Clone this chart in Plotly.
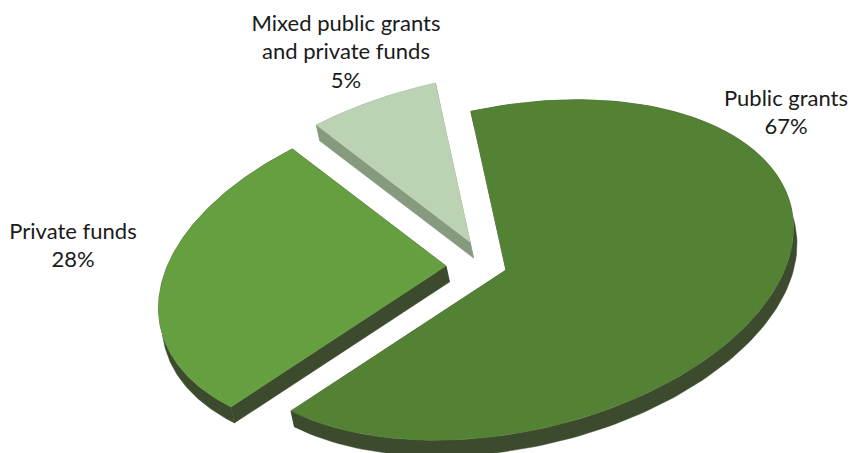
import numpy as np
import plotly.graph_objects as go

# Funding shares in percent, in clockwise drawing order.
categories = ["Public grants", "Private funds", "Mixed public grants and private funds"]
shares = [67, 28, 5]
label_lines = [["Public grants"], ["Private funds"], ["Mixed public grants", "and private funds"]]

top_colors = ["#548235", "#659F40", "#BBD3B2"]
side_colors = ["#3C4B2E", "#3C4B2E", "#869A7E"]

# Tilted-disc view: each slice is pulled away from the middle, and the view
# widens or narrows its sweep a little.
apexes = [(506, 270), (446, 266), (470, 242)]
sweep_scale = [0.976, 0.985, 1.41]
start_angle = 97.0
axis_u = (287.5, -42.0)
axis_v = (0.0, -165.0)
extrusion = (3.5, 16.0)
label_anchor = [(786, 100), (73, 233), (346, 25)]
line_gap = 28.5


def project(apex, angles):
    c, s = np.cos(angles), np.sin(angles)
    return apex[0] + axis_u[0] * c + axis_v[0] * s, apex[1] + axis_u[1] * c + axis_v[1] * s


def slice_outline(apex, begin, end):
    arc = np.radians(np.linspace(begin, end, 160))
    x, y = project(apex, arc)
    return np.r_[apex[0], x, apex[0]], np.r_[apex[1], y, apex[1]]


def strip(xs, ys):
    # Closed band between a stretch of the rim and the same stretch dropped by the slice depth.
    return (np.r_[xs, xs[::-1] + extrusion[0], xs[0]],
            np.r_[ys, ys[::-1] + extrusion[1], ys[0]])


fig = go.Figure()

outlines = []
angle = start_angle
for share, scale, apex in zip(shares, sweep_scale, apexes):
    sweep = share / 100 * 360 * scale
    outlines.append(slice_outline(apex, angle, angle - sweep))
    angle -= sweep

# Far slices first so that the nearer ones sit on top.
for i in [2, 1, 0]:
    xs, ys = outlines[i]
    for seg in (slice(0, 2), slice(1, -1), slice(-2, None)):
        sx, sy = strip(xs[seg], ys[seg])
        fig.add_trace(go.Scatter(x=sx, y=sy, mode="lines", fill="toself", fillcolor=side_colors[i],
                                 line=dict(color=side_colors[i], width=0.5), hoverinfo="skip"))
    fig.add_trace(go.Scatter(x=xs, y=ys, mode="lines", fill="toself", fillcolor=top_colors[i],
                             line=dict(color=top_colors[i], width=0.5), name=categories[i]))

# Category names and percentages, one text point per line.
tx, ty, tt = [], [], []
for lines, share, (ax, ay) in zip(label_lines, shares, label_anchor):
    for k, line in enumerate(lines + [f"{share}%"]):
        tx.append(ax)
        ty.append(ay + k * line_gap)
        tt.append(line)
fig.add_trace(go.Scatter(x=tx, y=ty, text=tt, mode="text", textposition="middle center",
                         textfont=dict(family="Lato", size=22, color="#1a1a1a"), hoverinfo="skip"))

fig.update_layout(
    width=849, height=453, margin=dict(l=0, r=0, t=0, b=0),
    paper_bgcolor="white", plot_bgcolor="white", showlegend=False,
    xaxis=dict(range=[0, 849], visible=False, fixedrange=True),
    yaxis=dict(range=[453, 0], visible=False, fixedrange=True),
)
fig.write_html("out.html", config={"displayModeBar": False})
